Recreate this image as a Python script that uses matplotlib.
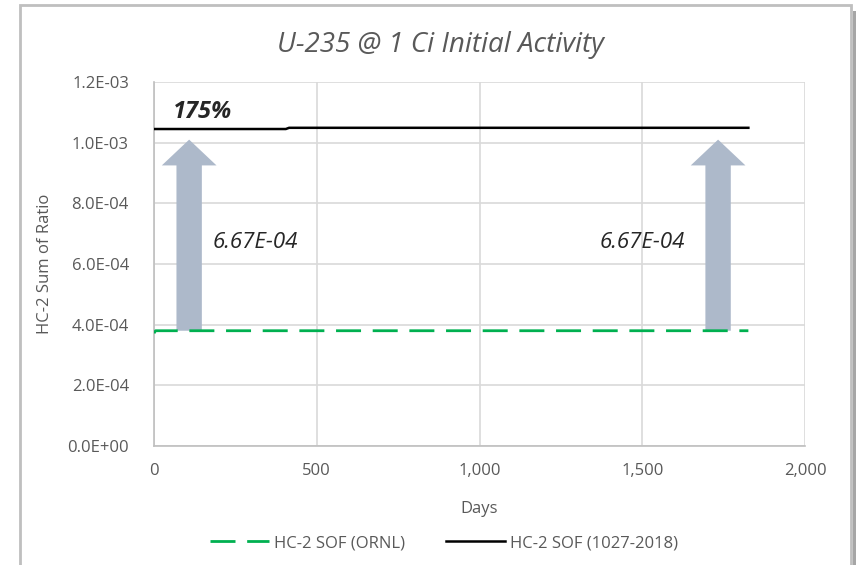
import matplotlib.pyplot as plt
from matplotlib.patches import FancyArrow, Rectangle
from matplotlib.ticker import FuncFormatter

# Data
ornl_days = [0, 5, 1826]
ornl_sof = [3.72e-4, 3.80e-4, 3.80e-4]
new_days = [0, 405, 415, 1826]
new_sof = [1.045e-3, 1.045e-3, 1.049e-3, 1.049e-3]

arrow_days = [108, 1733]
arrow_base = 3.80e-4
arrow_top = 1.01e-3
delta_label = "6.67E-04"
pct_label = "175%"

GRAY = '#595959'
GRID = '#D9D9D9'

fig = plt.figure(figsize=(8.59, 5.65), dpi=100)
fig.patch.set_facecolor('white')

# Screenshot frame around the chart
fig.patches.append(Rectangle((20 / 859, -0.02), 831 / 859, 1.0 - 5 / 565 + 0.02,
                             transform=fig.transFigure, fill=False,
                             edgecolor='#BFBFBF', lw=2.0, zorder=0))
fig.patches.append(Rectangle((853 / 859, -0.02), 3 / 859, 1.0,
                             transform=fig.transFigure, facecolor='#A6A6A6',
                             edgecolor='none', zorder=0))

ax = fig.add_axes([154 / 859, 1 - 446 / 565, 651 / 859, 364 / 565])

ax.plot(ornl_days, ornl_sof, color='#00B050', lw=2.0, dashes=(9, 4.2),
        label='HC-2 SOF (ORNL)', zorder=3)
ax.plot(new_days, new_sof, color='black', lw=1.8,
        label='HC-2 SOF (1027-2018)', zorder=3)

# Block arrows showing the increase
for d in arrow_days:
    arr = FancyArrow(d, arrow_base, 0, arrow_top - arrow_base,
                     width=78, head_width=168, head_length=0.85e-4,
                     length_includes_head=True, facecolor='#ADB9CA',
                     edgecolor='none', zorder=2)
    ax.add_patch(arr)

ax.text(180, 6.7e-4, delta_label, fontsize=16, style='italic',
        color='#262626', family='Open Sans', va='center', ha='left')
ax.text(1370, 6.7e-4, delta_label, fontsize=16, style='italic',
        color='#262626', family='Open Sans', va='center', ha='left')
ax.text(58, 1.1e-3, pct_label, fontsize=17, style='italic', weight='bold',
        color='#262626', family='Open Sans', va='center', ha='left')

ax.set_xlim(0, 2000)
ax.set_ylim(0, 1.2e-3)
ax.set_xticks([0, 500, 1000, 1500, 2000])
ax.set_yticks([i * 2e-4 for i in range(7)])
ax.xaxis.set_major_formatter(FuncFormatter(lambda v, p: f'{v:,.0f}'))
ax.yaxis.set_major_formatter(FuncFormatter(lambda v, p: f'{v:.1E}'))
ax.grid(True, color=GRID, lw=1.2)
ax.set_axisbelow(True)
ax.tick_params(length=0, labelsize=12, colors=GRAY)
ax.tick_params(axis='x', pad=12)
ax.tick_params(axis='y', pad=18)
for side in ['top', 'right']:
    ax.spines[side].set_visible(False)
for side in ['left', 'bottom']:
    ax.spines[side].set_color('#BFBFBF')
    ax.spines[side].set_linewidth(1.2)

for lbl in ax.get_xticklabels() + ax.get_yticklabels():
    lbl.set_family('Open Sans')

ax.set_xlabel('Days', fontsize=12, color=GRAY, family='Open Sans', labelpad=16)
ax.set_ylabel('HC-2 Sum of Ratio', fontsize=12, color=GRAY, family='Open Sans',
              labelpad=10)

fig.text(440 / 859, 1 - 45 / 565, 'U-235 @ 1 Ci Initial Activity', fontsize=20,
         style='italic', color=GRAY, family='Open Sans', ha='center', va='center')

leg = fig.legend(loc='center', bbox_to_anchor=(444 / 859, 1 - 543 / 565), ncol=2,
                 frameon=False, handlelength=3.5, handletextpad=0.3,
                 columnspacing=2.5, prop={'family': 'Open Sans', 'size': 12})
for t in leg.get_texts():
    t.set_color(GRAY)

fig.savefig('out.png', dpi=100)
